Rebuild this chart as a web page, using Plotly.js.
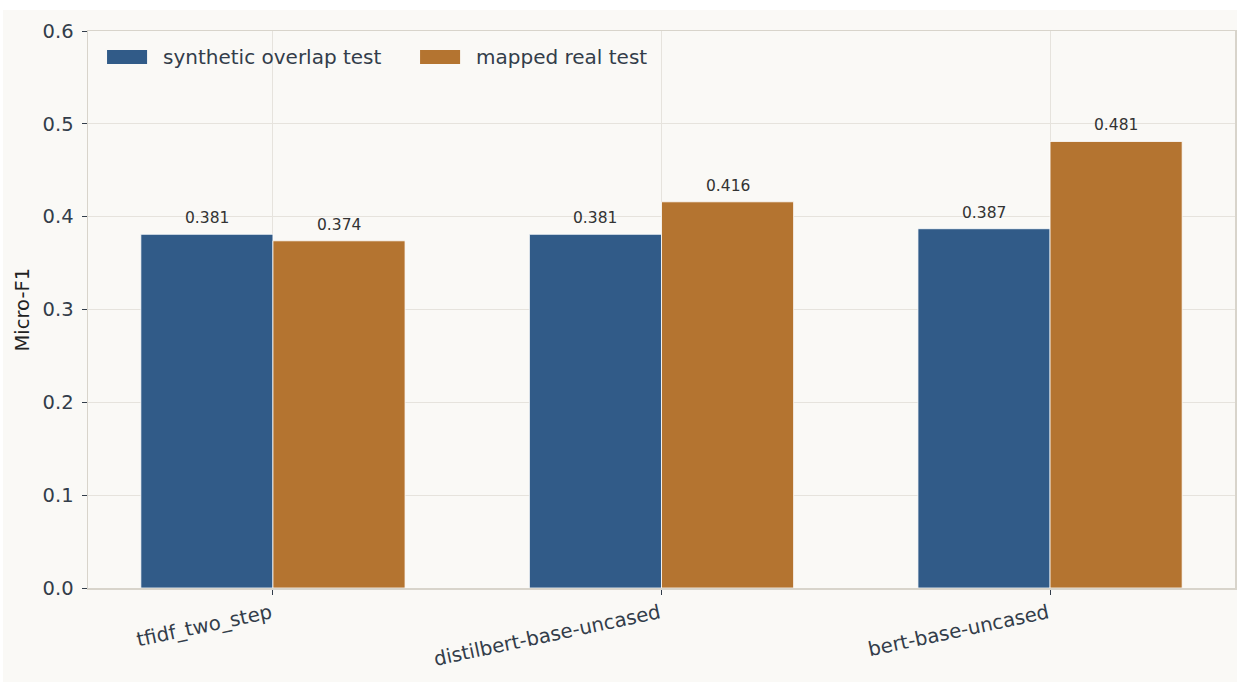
<!DOCTYPE html>
<html>
<head>
<meta charset="utf-8">
<script src="https://cdn.plot.ly/plotly-3.0.1.min.js"></script>
<style>
html,body{margin:0;padding:0;background:#ffffff;}
#chart{position:absolute;left:3px;top:10px;width:1234px;height:672px;}
</style>
</head>
<body>
<div id="chart"></div>
<script>
var categories = ["tfidf_two_step", "distilbert-base-uncased", "bert-base-uncased"];
var seriesNames = ["synthetic overlap test", "mapped real test"];
var syntheticOverlap = [0.381, 0.381, 0.387];
var mappedReal = [0.374, 0.416, 0.481];
var yTicks = [0.0, 0.1, 0.2, 0.3, 0.4, 0.5, 0.6];
var yTitle = "Micro-F1";

var colors = ["#315b88", "#b47430"];
var textColor = "#333d4a";
var bg = "#faf9f6";
var barWidth = 0.34;

var traces = [syntheticOverlap, mappedReal].map(function (vals, i) {
  return {
    type: "bar",
    name: seriesNames[i],
    x: categories,
    y: vals,
    marker: {color: colors[i], line: {color: "#ffffff", width: 0.8}},
    showlegend: false,
    hoverinfo: "x+y"
  };
});

var annotations = [];
[syntheticOverlap, mappedReal].forEach(function (vals, i) {
  var off = (i === 0 ? -1 : 1) * barWidth / 2;
  vals.forEach(function (v, j) {
    annotations.push({
      x: j + off, y: v, xref: "x", yref: "y",
      text: v.toFixed(3), showarrow: false,
      yanchor: "bottom", yshift: 5,
      font: {family: "DejaVu Sans", size: 15.5, color: "#333333"}
    });
  });
});

// y-axis title
annotations.push({
  xref: "paper", yref: "paper", x: -0.0567, y: 0.5,
  xanchor: "center", yanchor: "middle", textangle: -90,
  showarrow: false, text: yTitle,
  font: {family: "DejaVu Sans", size: 19.5, color: "#222222"}
});

// legend (custom, inside top-left)
var shapes = [];
var legX = [0.0166, 0.2895];
seriesNames.forEach(function (n, i) {
  shapes.push({
    type: "rect", xref: "paper", yref: "paper",
    x0: legX[i], x1: legX[i] + 0.0349, y0: 0.9408, y1: 0.9659,
    fillcolor: colors[i], line: {width: 0}
  });
  annotations.push({
    xref: "paper", yref: "paper", x: legX[i] + 0.0470, y: 0.9533,
    xanchor: "left", yanchor: "middle", showarrow: false, text: n,
    font: {family: "DejaVu Sans", size: 20, color: textColor}
  });
});

var layout = {
  width: 1234, height: 672,
  paper_bgcolor: bg, plot_bgcolor: bg,
  margin: {l: 85, r: 2, t: 21, b: 94},
  barmode: "group",
  bargap: 1 - 2 * barWidth,
  bargroupgap: 0,
  font: {family: "DejaVu Sans", color: textColor},
  xaxis: {
    type: "category",
    range: [-0.476, 2.476],
    tickangle: -12,
    tickfont: {family: "DejaVu Sans", size: 19.7, color: textColor},
    ticks: "outside", ticklen: 5, tickcolor: textColor, tickwidth: 1,
    ticklabelshift: -2,
    showgrid: true, gridcolor: "#e6e3dd", gridwidth: 1,
    showline: true, linecolor: "#d8d4cb", linewidth: 1.5, mirror: true,
    layer: "above traces",
    zeroline: false
  },
  yaxis: {
    range: [0, 0.6],
    tickvals: yTicks,
    tickformat: ".1f",
    tickfont: {family: "DejaVu Sans", size: 19.5, color: textColor},
    ticks: "outside", ticklen: 5, tickcolor: textColor, tickwidth: 1,
    ticklabelstandoff: 4,
    showgrid: true, gridcolor: "#e6e3dd", gridwidth: 1,
    showline: true, linecolor: "#d8d4cb", linewidth: 1.5, mirror: true,
    layer: "above traces",
    zeroline: false
  },
  shapes: shapes,
  annotations: annotations
};

Plotly.newPlot("chart", traces, layout, {displayModeBar: false, staticPlot: true});
</script>
</body>
</html>
